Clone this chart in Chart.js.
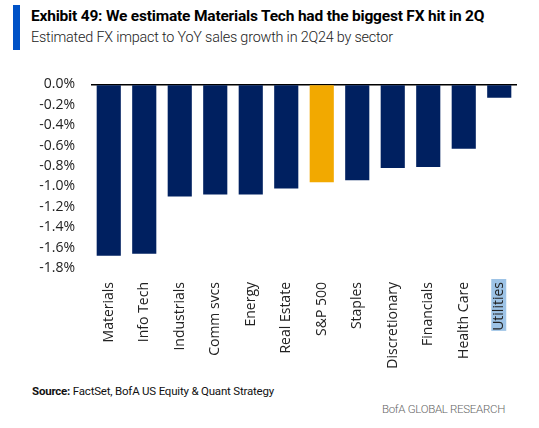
<!DOCTYPE html>
<html>
<head>
<meta charset="utf-8">
<script src="https://cdn.jsdelivr.net/npm/chart.js@4"></script>
<style>
  body { margin: 0; background: #fff; width: 539px; height: 428px; overflow: hidden; position: relative; font-family: Roboto, sans-serif; }
  .bar { position: absolute; left: 13px; top: 5px; width: 7px; height: 45px; background: #0052C7; }
  .title { position: absolute; left: 31px; top: 7px; font-size: 15.5px; font-weight: bold; color: #000; white-space: nowrap; letter-spacing: -0.2px; }
  .sub { position: absolute; left: 31px; top: 29px; font-size: 14.4px; font-weight: 300; color: #222; white-space: nowrap; letter-spacing: -0.2px; }
  .src { position: absolute; left: 32px; top: 384px; font-size: 11.5px; color: #111; white-space: nowrap; letter-spacing: -0.2px; }
  .brand { position: absolute; right: 34px; top: 402px; font-size: 11.5px; font-weight: 300; color: #666; white-space: nowrap; letter-spacing: -0.3px; }
  #wrap { position: absolute; left: 0; top: 60px; width: 539px; height: 310px; }
</style>
</head>
<body>
<div class="bar"></div>
<div class="title">Exhibit 49: We estimate Materials Tech had the biggest FX hit in 2Q</div>
<div class="sub">Estimated FX impact to YoY sales growth in 2Q24 by sector</div>
<div id="wrap"><canvas id="fxChart"></canvas></div>
<div class="src"><b>Source:</b> FactSet, BofA US Equity &amp; Quant Strategy</div>
<div class="brand">BofA GLOBAL RESEARCH</div>
<script>
const sectors = ["Materials", "Info Tech", "Industrials", "Comm svcs", "Energy", "Real Estate",
  "S&P 500", "Staples", "Discretionary", "Financials", "Health Care", "Utilities"];
const fxImpact = [-1.68, -1.66, -1.10, -1.08, -1.08, -1.02, -0.96, -0.94, -0.82, -0.81, -0.63, -0.13];
const yTicks = [0, -0.2, -0.4, -0.6, -0.8, -1.0, -1.2, -1.4, -1.6, -1.8];

const NAVY = "#002060";
const GOLD = "#F2A900";

// light-blue highlight behind the Utilities label, as in the source image
const highlightLabel = {
  id: "highlightLabel",
  beforeDraw(chart) {
    const x = chart.scales.x;
    const ctx = chart.ctx;
    const i = sectors.indexOf("Utilities");
    const cx = x.getPixelForValue(i);
    ctx.save();
    ctx.font = "14px 'Open Sans'";
    const w = ctx.measureText(sectors[i]).width;
    ctx.fillStyle = "#9DC3E6";
    ctx.fillRect(cx - 8, x.top + 11, 15, w + 3);
    ctx.restore();
  }
};

new Chart(document.getElementById("fxChart"), {
  type: "bar",
  data: {
    labels: sectors,
    datasets: [{
      data: fxImpact,
      backgroundColor: sectors.map(s => s === "S&P 500" ? GOLD : NAVY),
      barPercentage: 0.68,
      categoryPercentage: 1
    }]
  },
  options: {
    responsive: true,
    maintainAspectRatio: false,
    animation: false,
    layout: { padding: { top: 14, right: 22, left: 0, bottom: 0 } },
    plugins: { legend: { display: false }, tooltip: { enabled: false } },
    scales: {
      x: {
        grid: { display: false },
        border: { display: false },
        ticks: {
          color: "#222",
          font: { family: "'Open Sans'", size: 14 },
          minRotation: 90,
          maxRotation: 90,
          padding: 6
        },
        afterFit(scale) { scale.height = 102; }
      },
      y: {
        min: -1.8,
        max: 0,
        border: { display: false },
        grid: {
          drawTicks: false,
          color: ctx => ctx.tick && ctx.tick.value === 0 ? "#000" : "transparent",
          lineWidth: 1.5
        },
        afterBuildTicks(scale) { scale.ticks = yTicks.map(v => ({ value: v })); },
        ticks: {
          color: "#222",
          font: { family: "'Open Sans'", size: 14 },
          padding: 16,
          callback: v => v.toFixed(1) + "%"
        },
        afterFit(scale) { scale.width = 91; }
      }
    }
  },
  plugins: [highlightLabel]
});
</script>
</body>
</html>
